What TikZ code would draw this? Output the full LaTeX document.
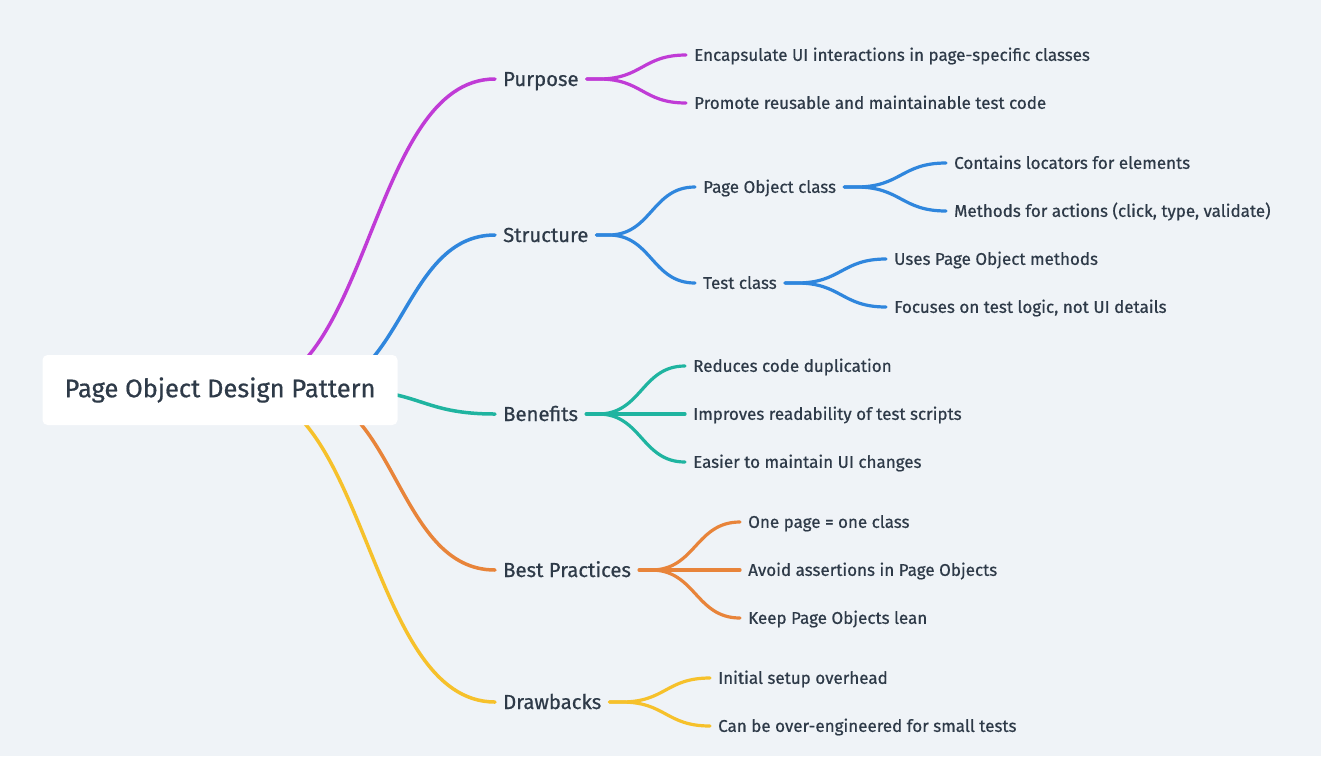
\documentclass[tikz,border=0pt]{standalone}
\usepackage{fontspec}
\setmainfont{Fira Sans}[FakeBold=0.6]
\usetikzlibrary{calc,backgrounds}

\definecolor{bgcol}{HTML}{EFF3F7}
\definecolor{inkcol}{HTML}{2E3A48}
\definecolor{purposecol}{HTML}{C03BD6}
\definecolor{structcol}{HTML}{2F86DD}
\definecolor{benefitcol}{HTML}{1FB4A0}
\definecolor{practicecol}{HTML}{E8843A}
\definecolor{drawbackcol}{HTML}{F6C12B}

\begin{document}
\begin{tikzpicture}[x=1pt,y=-1pt]
    \tikzset{
        rootbox/.style={fill=white, rounded corners=5pt, minimum width=355pt, minimum height=70pt,
            text=inkcol, font=\fontsize{25.5}{30}\selectfont},
        topic/.style={anchor=west, inner xsep=8pt, inner ysep=0pt, text height=14pt, text depth=0pt,
            text=inkcol, font=\fontsize{20.3}{24}\selectfont},
        leaf/.style={anchor=west, inner xsep=8pt, inner ysep=0pt, text height=11.7pt, text depth=0pt,
            text=inkcol, font=\fontsize{17}{20}\selectfont},
        % S-shaped link, control points at half way
        branch/.style={line width=3.5pt, line cap=round,
            to path={let \p1=(\tikztostart), \p2=(\tikztotarget), \p3=($(\p1)!.5!(\p2)$) in
                .. controls (\x3,\y1) and (\x3,\y2) .. (\tikztotarget)}},
        % same, with a short straight stub first
        twig/.style={line width=3.2pt, line cap=round,
            to path={let \p1=($(\tikztostart)+(12pt,0pt)$), \p2=(\tikztotarget), \p3=($(\p1)!.5!(\p2)$) in
                -- (\p1) .. controls (\x3,\y1) and (\x3,\y2) .. (\tikztotarget)}}
    }
    \useasboundingbox (0,0) rectangle (1321,756);

    \node[rootbox] (root) at (220,390) {Page Object Design Pattern};

    % first level
    \node[topic] (purpose) at (495,79) {Purpose};
    \node[topic] (structure) at (495,235) {Structure};
    \node[topic] (benefits) at (495,414) {Benefits};
    \node[topic] (practices) at (495,570) {Best Practices};
    \node[topic] (drawbacks) at (495,702) {Drawbacks};

    \coordinate (r-purpose) at ($(root.center)+(25pt,0pt)$);
    \coordinate (r-structure) at ($(root.center)+(91pt,0pt)$);
    \coordinate (r-benefits) at ($(root.center)+(127pt,0pt)$);
    \coordinate (r-practices) at ($(root.center)+(77pt,0pt)$);
    \coordinate (r-drawbacks) at ($(root.center)+(21pt,0pt)$);

    % purpose
    \node[leaf] (encaps) at (686,55) {Encapsulate UI interactions in page-specific classes};
    \node[leaf] (promote) at (686,103) {Promote reusable and maintainable test code};

    % structure
    \node[leaf] (poclass) at (695,187) {Page Object class};
    \node[leaf] (testclass) at (695,283) {Test class};
    \node[leaf] (locators) at (946,163) {Contains locators for elements};
    \node[leaf] (methods) at (946,211) {Methods for actions (click, type, validate)};
    \node[leaf] (usespo) at (886,259) {Uses Page Object methods};
    \node[leaf] (focuses) at (886,307) {Focuses on test logic, not UI details};

    % benefits
    \node[leaf] (reduces) at (685,366) {Reduces code duplication};
    \node[leaf] (improves) at (685,414) {Improves readability of test scripts};
    \node[leaf] (easier) at (685,462) {Easier to maintain UI changes};

    % best practices
    \node[leaf] (onepage) at (740,522) {One page = one class};
    \node[leaf] (avoid) at (740,570) {Avoid assertions in Page Objects};
    \node[leaf] (lean) at (740,618) {Keep Page Objects lean};

    % drawbacks
    \node[leaf] (setup) at (710,678) {Initial setup overhead};
    \node[leaf] (overeng) at (710,726) {Can be over-engineered for small tests};

    \begin{scope}[on background layer]
        \fill[bgcol] (0,0) rectangle (1321,756);
        \draw[branch, purposecol] (r-purpose) to (purpose.west);
        \draw[branch, structcol] (r-structure) to (structure.west);
        \draw[branch, benefitcol] (r-benefits) to (benefits.west);
        \draw[branch, practicecol] (r-practices) to (practices.west);
        \draw[branch, drawbackcol] (r-drawbacks) to (drawbacks.west);

        \draw[twig, purposecol] (purpose.east) to (encaps.west);
        \draw[twig, purposecol] (purpose.east) to (promote.west);

        \draw[twig, structcol] (structure.east) to (poclass.west);
        \draw[twig, structcol] (structure.east) to (testclass.west);
        \draw[twig, structcol] (poclass.east) to (locators.west);
        \draw[twig, structcol] (poclass.east) to (methods.west);
        \draw[twig, structcol] (testclass.east) to (usespo.west);
        \draw[twig, structcol] (testclass.east) to (focuses.west);

        \draw[twig, benefitcol] (benefits.east) to (reduces.west);
        \draw[twig, benefitcol] (benefits.east) to (improves.west);
        \draw[twig, benefitcol] (benefits.east) to (easier.west);

        \draw[twig, practicecol] (practices.east) to (onepage.west);
        \draw[twig, practicecol] (practices.east) to (avoid.west);
        \draw[twig, practicecol] (practices.east) to (lean.west);

        \draw[twig, drawbackcol] (drawbacks.east) to (setup.west);
        \draw[twig, drawbackcol] (drawbacks.east) to (overeng.west);
    \end{scope}
\end{tikzpicture}
\end{document}
